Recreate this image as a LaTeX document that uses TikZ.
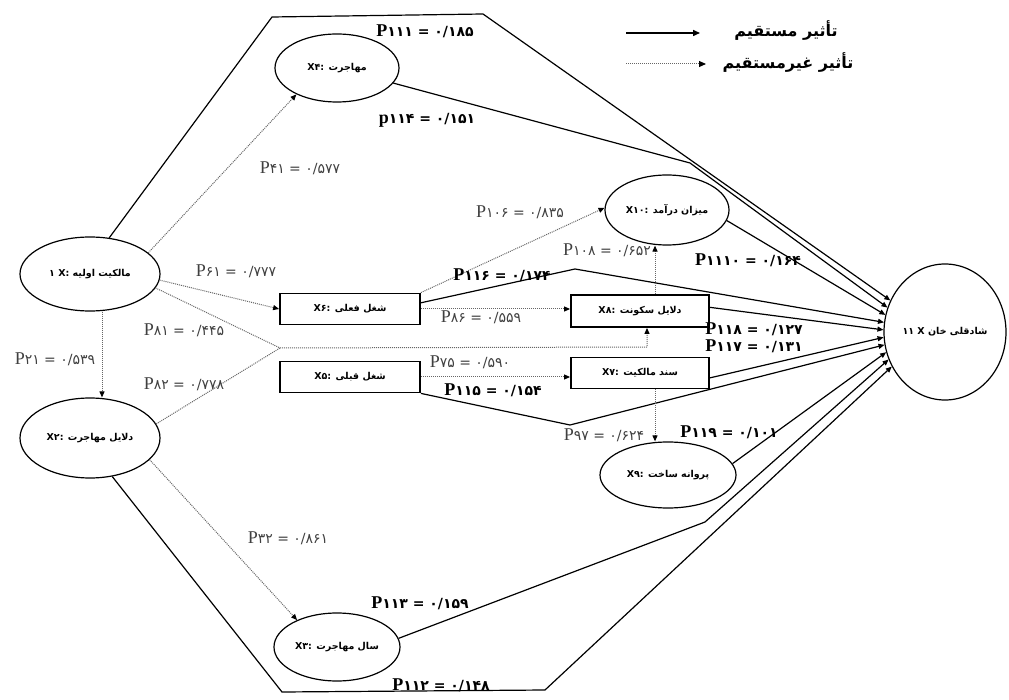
\documentclass[tikz,border=0pt]{standalone}
\usepackage{fontspec}
\setmainfont{Liberation Serif}
\newfontfamily\fa[Script=Arabic]{DejaVu Sans}
\TeXXeTstate=1
\usetikzlibrary{arrows.meta,calc,shapes.geometric}
\newcommand\pl[3][P]{{\fontsize{18}{18}\selectfont #1}{\fa\fontsize{14}{15}\selectfont #2 = #3}}
\newcommand\nt[2]{{\fa\bfseries\fontsize{9.5}{11}\selectfont #1 #2}}
\begin{document}
\begin{tikzpicture}[x=1pt,y=-1pt,
  ell/.style={ellipse,draw,line width=1.2pt,inner sep=0pt},
  boxn/.style={rectangle,draw,line width=1.8pt,inner sep=0pt,minimum width=140pt,minimum height=31pt},
  dir/.style={line width=1.2pt,-{Triangle[length=6pt,width=5pt]}},
  ind/.style={line width=1pt,black!60,dash pattern=on 1pt off 1pt,-{Triangle[length=6pt,width=5pt,color=black]}},
  indl/.style={line width=1pt,black!60,dash pattern=on 1pt off 1pt},
  lab/.style={inner sep=0pt,text=black!75},
  labb/.style={inner sep=0pt,text=black,font=\bfseries}]
\useasboundingbox (0,0) rectangle (1009,700);
% nodes
\node[ell,minimum width=140pt,minimum height=74pt] (X1) at (90,274) {\nt{۱ X:}{\beginR مالکیت اولیه\endR}};
\node[ell,minimum width=140pt,minimum height=80pt] (X2) at (90,438) {\nt{X۲:}{\beginR دلایل مهاجرت\endR}};
\node[ell,minimum width=124pt,minimum height=68pt] (X4) at (337,68) {\nt{X۴:}{\beginR مهاجرت\endR}};
\node[ell,minimum width=126pt,minimum height=68pt] (X3) at (337,647) {\nt{X۳:}{\beginR سال مهاجرت\endR}};
\node[ell,minimum width=124pt,minimum height=70pt] (X10) at (667,210) {\nt{X۱۰:}{\beginR میزان درآمد\endR}};
\node[ell,minimum width=136pt,minimum height=66pt] (X9) at (668,475) {\nt{X۹:}{\beginR پروانه ساخت\endR}};
\node[boxn] (X6) at (350,309) {\nt{X۶:}{\beginR شغل فعلی\endR}};
\node[boxn] (X5) at (350,377) {\nt{X۵:}{\beginR شغل قبلی\endR}};
\node[boxn,minimum width=138pt,minimum height=32pt] (X8) at (640,311) {\nt{X۸:}{\beginR دلایل سکونت\endR}};
\node[boxn,minimum width=138pt] (X7) at (640,373) {\nt{X۷:}{\beginR سند مالکیت\endR}};
\node[ellipse,draw,line width=1.2pt,minimum width=122pt,minimum height=136pt,inner sep=0pt] (X11) at (945,332) {\nt{۱۱ X}{\beginR شادقلی خان\endR}};
% bend points
\coordinate (t1) at (272,17);
\coordinate (t2) at (483,14);
\coordinate (b4) at (690,163);
\coordinate (p6) at (575,269);
\coordinate (p5) at (570,425);
\coordinate (p3) at (705,522);
\coordinate (b1) at (282,692);
\coordinate (b2) at (545,690);
\coordinate (J) at (280,348);
\coordinate (K) at (647,347);
% direct effects
\draw[dir] (X1.62) -- (t1) -- (t2) -- (X11.150);
\draw[dir] (X4.-15) -- (b4) -- (X11.157);
\draw[dir] (X10.-10) -- (X11.164);
\draw[dir] (X6.5) -- (p6) -- (X11.171);
\draw[dir] (X8.3) -- (X11.178);
\draw[dir] (X7.-4) -- (X11.185);
\draw[dir] (X5.south east) -- (p5) -- (X11.192);
\draw[dir] (X9.10) -- (X11.199);
\draw[dir] (X3.8) -- (p3) -- (X11.206);
\draw[dir] (X2.-60) -- (b1) -- (b2) -- (X11.213);
% indirect effects
\draw[ind] (X1.20) -- (X4.213);
\draw[ind] (X1.-5) -- (X6.west);
\draw[indl] (X1.-12) -- (J);
\draw[indl] (X2.12) -- (J);
\draw[ind] (J) -- (K) -- (K |- X8.south);
\draw[ind] ([xshift=12pt]X1.south) -- ([xshift=12pt]X2.north);
\draw[ind] (X2.-20) -- (X3.146);
\draw[ind] (X6.north east) -- (X10.178);
\draw[ind] (X6.east) -- (X6.east -| X8.west);
\draw[ind] (X5.east) -- (X5.east -| X7.west);
\draw[ind] ([xshift=15pt]X8.north) -- ([xshift=-12pt]X10.south);
\draw[ind] ([xshift=15pt]X7.south) -- ([xshift=-13pt]X9.north);
% labels
\node[labb] (L111) at (425,31) {\pl{۱۱۱}{۰/۱۸۵}};
\node[labb] (L114) at (427,120) {\pl[p]{۱۱۴}{۰/۱۵۱}};
\node[lab] (L41) at (300,168) {\pl{۴۱}{۰/۵۷۷}};
\node[lab] (L61) at (236,271) {\pl{۶۱}{۰/۷۷۷}};
\node[lab] (L81) at (184,330) {\pl{۸۱}{۰/۴۴۵}};
\node[lab] (L82) at (184,384) {\pl{۸۲}{۰/۷۷۸}};
\node[lab] (L21) at (55,359) {\pl{۲۱}{۰/۵۳۹}};
\node[lab] (L32) at (288,538) {\pl{۳۲}{۰/۸۶۱}};
\node[lab] (L106) at (520,212) {\pl{۱۰۶}{۰/۸۳۵}};
\node[lab] (L108) at (607,250) {\pl{۱۰۸}{۰/۶۵۲}};
\node[labb] (L116) at (502,275) {\pl{۱۱۶}{۰/۱۷۴}};
\node[labb] (L1110) at (748,260) {\pl{۱۱۱۰}{۰/۱۶۴}};
\node[lab] (L86) at (481,317) {\pl{۸۶}{۰/۵۵۹}};
\node[labb] (L118) at (754,329) {\pl{۱۱۸}{۰/۱۲۷}};
\node[labb] (L117) at (754,346) {\pl{۱۱۷}{۰/۱۳۱}};
\node[lab] (L75) at (470,362) {\pl{۷۵}{۰/۵۹۰}};
\node[labb] (L115) at (493,390) {\pl{۱۱۵}{۰/۱۵۴}};
\node[lab] (L97) at (604,435) {\pl{۹۷}{۰/۶۲۴}};
\node[labb] (L119) at (729,432) {\pl{۱۱۹}{۰/۱۰۱}};
\node[labb] (L113) at (420,603) {\pl{۱۱۳}{۰/۱۵۹}};
\node[labb] (L112) at (441,685) {\pl{۱۱۲}{۰/۱۴۸}};
% legend
\coordinate (la1) at (626,33);
\coordinate (la2) at (700,33);
\coordinate (lb1) at (626,64);
\coordinate (lb2) at (706,64);
\draw[line width=1.5pt,-{Triangle[length=7pt,width=6pt]}] (la1) -- (la2);
\draw[line width=1pt,black!60,dash pattern=on 1pt off 1pt,-{Triangle[length=7pt,width=6pt,color=black]}] (lb1) -- (lb2);
\node[inner sep=0pt] (lg1) at (786,31) {\fa\bfseries\fontsize{16}{18}\selectfont\beginR تأثیر مستقیم\endR};
\node[inner sep=0pt] (lg2) at (788,63) {\fa\bfseries\fontsize{16}{18}\selectfont\beginR تأثیر غیرمستقیم\endR};
\end{tikzpicture}
\end{document}
